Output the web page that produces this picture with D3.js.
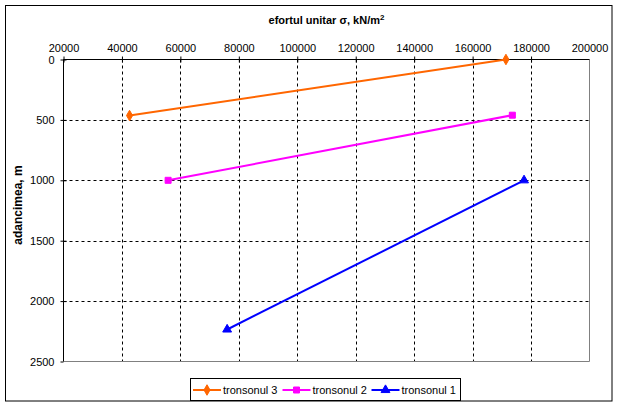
<!DOCTYPE html>
<html><head><meta charset="utf-8">
<script src="https://cdn.jsdelivr.net/npm/d3@7"></script>
<style>body{margin:0;background:#fff}svg{display:block}text{font-family:"Liberation Sans",Arial,sans-serif}</style>
</head><body>
<script>
const xTicks = [20000,40000,60000,80000,100000,120000,140000,160000,180000,200000];
const yTicks = [0,500,1000,1500,2000,2500];
const seriesNames = ["tronsonul 3","tronsonul 2","tronsonul 1"];
const seriesColors = ["#FF6600","#FF00FF","#0000FF"];
const seriesMarkers = ["diamond","square","triangle"];
const tronsonul3 = [[42600,464],[171400,0]];
const tronsonul2 = [[55800,1000],[173600,461]];
const tronsonul1 = [[76000,2235],[177600,1000]];
const seriesData = [tronsonul3, tronsonul2, tronsonul1];

const W=619,H=408;
const L=63.5,T=59.5,R=589.5,B=361.5;
const svg=d3.select("body").append("svg").attr("width",W).attr("height",H);
svg.append("rect").attr("x",5.5).attr("y",5.5).attr("width",606.5).attr("height",395.5).attr("fill","#fff").attr("stroke","#000").attr("stroke-width",1);

const x=d3.scaleLinear().domain([20000,200000]).range([L,R]);
const y=d3.scaleLinear().domain([0,2500]).range([T,B]);

// gridlines
const g=svg.append("g");
g.selectAll(".vg").data(xTicks.slice(1,-1)).enter().append("line")
 .attr("x1",d=>Math.round(x(d))+0.5).attr("x2",d=>Math.round(x(d))+0.5).attr("y1",T).attr("y2",B)
 .attr("stroke","#000").attr("stroke-dasharray","3,3").attr("stroke-width",1);
g.selectAll(".hg").data(yTicks.slice(1,-1)).enter().append("line")
 .attr("y1",d=>Math.round(y(d))+0.5).attr("y2",d=>Math.round(y(d))+0.5).attr("x1",L).attr("x2",R)
 .attr("stroke","#000").attr("stroke-dasharray","3,3").attr("stroke-width",1);
// plot border right/bottom gray
svg.append("path").attr("d",`M${L},${B}H${R}V${T}`).attr("fill","none").attr("stroke","#808080").attr("stroke-width",1);

// axes
const xAxis=d3.axisTop(x).tickValues(xTicks).tickFormat(d3.format("d")).tickSize(3).tickPadding(5);
const ax=svg.append("g").attr("transform",`translate(0,${T})`).call(xAxis);
ax.select(".domain").attr("d",`M${L},0H${R}`).attr("stroke","#000");
ax.selectAll(".tick line").attr("y1",3).attr("y2",-3).attr("stroke","#000");
ax.selectAll(".tick").filter(d=>d===200000).select("line").remove();
ax.selectAll("text").attr("font-size","11px").attr("fill","#000").attr("font-family","Liberation Sans, Arial, sans-serif");

const yAxis=d3.axisLeft(y).tickValues(yTicks).tickFormat(d3.format("d")).tickSize(3).tickPadding(6);
const ay=svg.append("g").attr("transform",`translate(${L},0)`).call(yAxis);
ay.select(".domain").attr("d",`M0,${T}V${B}`).attr("stroke","#000");
ay.selectAll(".tick line").attr("x1",-3).attr("x2",3).attr("stroke","#000");
ay.selectAll(".tick").filter(d=>d===2500).select("line").attr("x2",0);
ay.selectAll("text").attr("font-size","11px").attr("fill","#000").attr("font-family","Liberation Sans, Arial, sans-serif");

// titles
const tt=svg.append("text").attr("x",(L+R)/2).attr("y",24).attr("text-anchor","middle").attr("font-size","11px").attr("font-weight","bold");
tt.append("tspan").text("efortul unitar σ, kN/m");
tt.append("tspan").text("2").attr("font-size","8px").attr("dy",-4);
svg.append("text").attr("transform",`translate(22,205) rotate(-90)`).attr("text-anchor","middle").attr("font-size","12px").attr("font-weight","bold").text("adancimea, m");

// markers
function marker(sel,type,color){
  const s=type==="diamond"?d3.symbolDiamond:type==="square"?d3.symbolSquare:d3.symbolTriangle;
  const size=type==="diamond"?32:type==="square"?36:34;
  sel.append("path").attr("d",d3.symbol().type(s).size(size)()).attr("fill",color).attr("stroke",color).attr("stroke-width",1);
}
const line=d3.line().x(d=>x(d[0])).y(d=>y(d[1]));
seriesData.forEach((data,i)=>{
  svg.append("path").datum(data).attr("d",line).attr("fill","none").attr("stroke",seriesColors[i]).attr("stroke-width",2);
  data.forEach(d=>{
    const m=svg.append("g").attr("transform",`translate(${x(d[0])},${y(d[1])})`);
    marker(m,seriesMarkers[i],seriesColors[i]);
  });
});

// legend
const lg=svg.append("g");
lg.append("rect").attr("x",190.5).attr("y",378.5).attr("width",270).attr("height",22).attr("fill","#fff").attr("stroke","#000");
const legX=[193,282.5,371.5];
seriesNames.forEach((n,i)=>{
  const gi=lg.append("g").attr("transform",`translate(${legX[i]},390)`);
  gi.append("line").attr("x1",0).attr("x2",28).attr("stroke",seriesColors[i]).attr("stroke-width",2);
  const m=gi.append("g").attr("transform","translate(14,0)");
  marker(m,seriesMarkers[i],seriesColors[i]);
  gi.append("text").attr("x",30).attr("y",4).attr("font-size","11px").text(n);
});
</script>
</body></html>
